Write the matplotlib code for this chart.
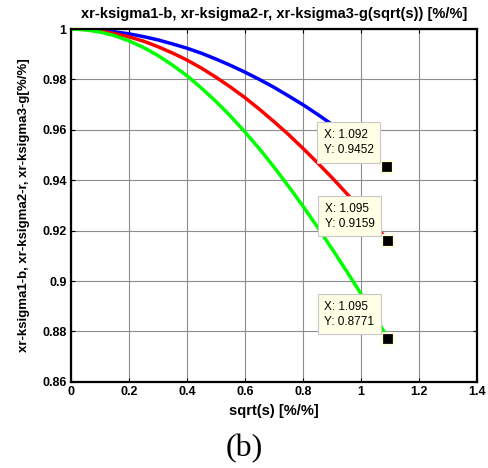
import numpy as np
import matplotlib
matplotlib.use('Agg')
import matplotlib.pyplot as plt
from matplotlib.ticker import FormatStrFormatter

# curves (sqrt(s) grid, then the three ratios)
x_s = [0, 0.05, 0.1, 0.15, 0.2, 0.25, 0.3, 0.35, 0.4, 0.45, 0.5, 0.55,
       0.6, 0.65, 0.7, 0.75, 0.8, 0.85, 0.9, 0.95, 1.0, 1.05]

y_b = [1, 0.9999, 0.9995, 0.9989, 0.9981, 0.9970, 0.9957, 0.9941, 0.9924,
       0.9904, 0.9881, 0.9856, 0.9829, 0.9800, 0.9769, 0.9735, 0.9700,
       0.9662, 0.9622, 0.9581, 0.9537, 0.9491]
y_r = [1, 0.9998, 0.9992, 0.9982, 0.9969, 0.9952, 0.9930, 0.9905, 0.9877,
       0.9845, 0.9809, 0.9770, 0.9728, 0.9682, 0.9633, 0.9582, 0.9527,
       0.9470, 0.9411, 0.9349, 0.9285, 0.9219]
y_g = [1, 0.9997, 0.9988, 0.9974, 0.9953, 0.9927, 0.9895, 0.9857, 0.9815,
       0.9766, 0.9713, 0.9655, 0.9592, 0.9525, 0.9453, 0.9377, 0.9298,
       0.9215, 0.9129, 0.9041, 0.8950, 0.8857]

# data tips (last point of each curve)
tip_x = [1.092, 1.095, 1.095]
tip_y = [0.9452, 0.9159, 0.8771]

xticks = [0, 0.2, 0.4, 0.6, 0.8, 1.0, 1.2, 1.4]
yticks = [0.86, 0.88, 0.9, 0.92, 0.94, 0.96, 0.98, 1.0]

plt.rcParams['font.family'] = ['Liberation Sans', 'DejaVu Sans']

fig = plt.figure(figsize=(4.89, 4.68), dpi=100, facecolor='w')
ax = fig.add_axes([0.145, 0.184, 0.830, 0.754])

for ys, tx, ty, c in zip([y_b, y_r, y_g], tip_x, tip_y,
                         ['#0000ff', '#ff0000', '#00ff00']):
    ax.plot(x_s + [tx], ys + [ty], color=c, lw=2.5, solid_capstyle='butt')

ax.set_xlim(0, 1.4)
ax.set_ylim(0.86, 1.0)
ax.set_xticks(xticks)
ax.set_yticks(yticks)
ax.xaxis.set_major_formatter(FormatStrFormatter('%g'))
ax.yaxis.set_major_formatter(FormatStrFormatter('%g'))
ax.tick_params(direction='in', length=3, width=0.8, top=True, right=True,
               labelsize=9, pad=3)
for lab in ax.get_xticklabels() + ax.get_yticklabels():
    lab.set_fontweight('bold')
ax.grid(True, color='#8c8c8c', lw=0.8, ls='-')
ax.set_axisbelow(True)
for spine in ax.spines.values():
    spine.set_linewidth(1.6)

ax.set_title('xr-ksigma1-b, xr-ksigma2-r, xr-ksigma3-g(sqrt(s)) [%/%]',
             fontsize=10.5, fontweight='bold', pad=8)
ax.set_xlabel('sqrt(s) [%/%]', fontsize=10.5, fontweight='bold', labelpad=4)
ax.set_ylabel('xr-ksigma1-b, xr-ksigma2-r, xr-ksigma3-g[%/%]', fontsize=9.5,
              fontweight='bold', labelpad=9)

for tx, ty in zip(tip_x, tip_y):
    ax.plot(tx, ty, 's', color='k', ms=8, mec='#ffffe0', mew=1.6, zorder=6)
    ax.annotate('X: %g\nY: %g' % (tx, ty), xy=(tx, ty), xytext=(-10, 8),
                textcoords='offset points', ha='right', va='bottom',
                multialignment='left', fontsize=8.5, linespacing=1.35,
                zorder=7,
                bbox=dict(boxstyle='square,pad=0.55', fc='#ffffe6',
                          ec='#c8c8c8', lw=0.8))

fig.text(0.5, 0.042, '(b)', ha='center', va='center', fontsize=23,
         family='Liberation Serif')

fig.savefig('out.png', dpi=100)
